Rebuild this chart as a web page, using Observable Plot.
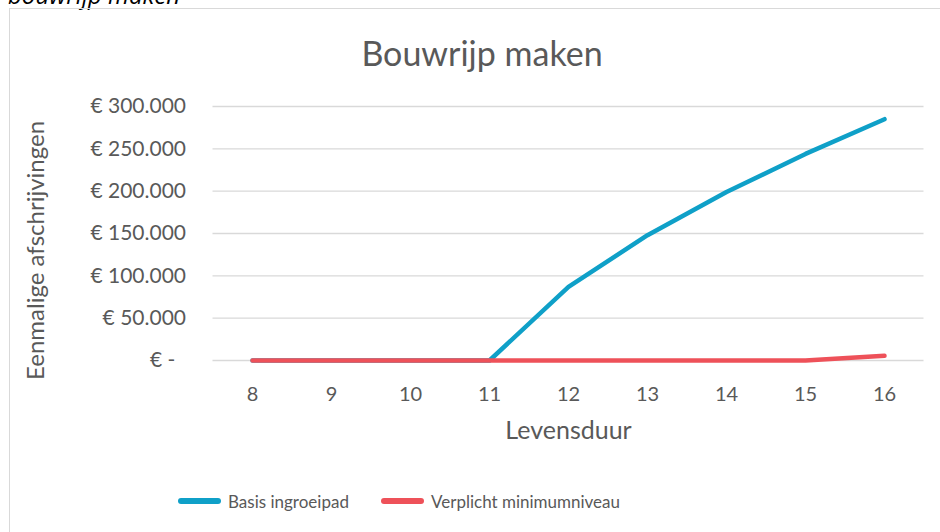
<!DOCTYPE html>
<html>
<head>
<meta charset="utf-8">
<script src="https://cdn.jsdelivr.net/npm/d3@7"></script>
<script src="https://cdn.jsdelivr.net/npm/@observablehq/plot@0.6"></script>
<style>
  body { margin: 0; background: #fff; font-family: Lato, "Open Sans", sans-serif; }
  #wrap { position: relative; width: 940px; height: 532px; overflow: hidden; background: #fff; }
  #cut { position: absolute; left: 8px; top: -17px; line-height: 24px; font-style: italic; font-size: 24px; color: #000; font-family: "Open Sans", sans-serif; white-space: nowrap; }
  #frame { position: absolute; left: 9px; top: 8px; width: 960px; height: 540px; border: 1px solid #d9d9d9; box-sizing: border-box; }
  #title { position: absolute; left: 0; width: 964px; top: 33px; line-height: 40px; text-align: center; font-size: 34px; color: #595959; }
  #chart { position: absolute; left: 0; top: 80px; }
  #legend { position: absolute; top: 489px; left: 0; width: 940px; font-size: 17px; color: #595959; }
  .item { position: absolute; top: 0; display: flex; align-items: center; height: 24px; }
  .sw { width: 43px; height: 5.5px; border-radius: 3px; margin-right: 7px; }
</style>
</head>
<body>
<div id="wrap">
  <div id="cut">bouwrijp maken</div>
  <div id="frame"></div>
  <div id="title">Bouwrijp maken</div>
  <div id="chart"></div>
  <div id="legend"></div>
</div>
<script>
const years = [8, 9, 10, 11, 12, 13, 14, 15, 16];
const basisIngroeipad = [0, 0, 0, 0, 87000, 148000, 199000, 244000, 285000];
const verplichtMinimum = [0, 0, 0, 0, 0, 0, 0, 0, 5500];
const yTicks = [0, 50000, 100000, 150000, 200000, 250000, 300000];
const seriesNames = ["Basis ingroeipad", "Verplicht minimumniveau"];
const seriesColors = ["#0fa0c8", "#ee5159"];

const data = [];
years.forEach((y, i) => data.push({year: y, value: basisIngroeipad[i], series: seriesNames[0]}));
years.forEach((y, i) => data.push({year: y, value: verplichtMinimum[i], series: seriesNames[1]}));

const fmt = v => v === 0 ? "€ -\u00a0\u00a0" : "€ " + d3.format(",")(v).replace(/,/g, ".");

const chart = Plot.plot({
  width: 940,
  height: 380,
  marginLeft: 212.5,
  marginRight: 16.5,
  marginTop: 26,
  marginBottom: 100,
  style: {fontFamily: "Lato, 'Open Sans', sans-serif", color: "#595959", background: "transparent", overflow: "visible"},
  x: {domain: [7.5, 16.5]},
  y: {domain: [0, 300000]},
  color: {domain: seriesNames, range: seriesColors},
  marks: [
    Plot.ruleY(yTicks, {stroke: "#d9d9d9", strokeWidth: 1.3}),
    Plot.axisY({ticks: yTicks, tickSize: 0, tickPadding: 27, tickFormat: fmt, fontSize: 21, label: null}),
    Plot.axisX({ticks: years, tickSize: 0, tickPadding: 26, tickFormat: d => String(d), fontSize: 20, label: null}),
    Plot.text(["Levensduur"], {frameAnchor: "bottom", dy: 78, fontSize: 25, fill: "#595959", textAnchor: "middle"}),
    Plot.text(["Eenmalige afschrijvingen"], {frameAnchor: "left", dx: -177, dy: 17, rotate: -90, textAnchor: "middle", fontSize: 24, fill: "#595959"}),
    Plot.line(data, {x: "year", y: "value", stroke: "series", z: "series", strokeWidth: 4.5, strokeLinecap: "round", strokeLinejoin: "round"})
  ]
});
document.getElementById("chart").appendChild(chart);

const legend = document.getElementById("legend");
const lefts = [178, 381];
seriesNames.forEach((n, i) => {
  const it = document.createElement("div");
  it.className = "item";
  it.style.left = lefts[i] + "px";
  it.innerHTML = `<div class="sw" style="background:${seriesColors[i]}"></div><span>${n}</span>`;
  legend.appendChild(it);
});
</script>
</body>
</html>
